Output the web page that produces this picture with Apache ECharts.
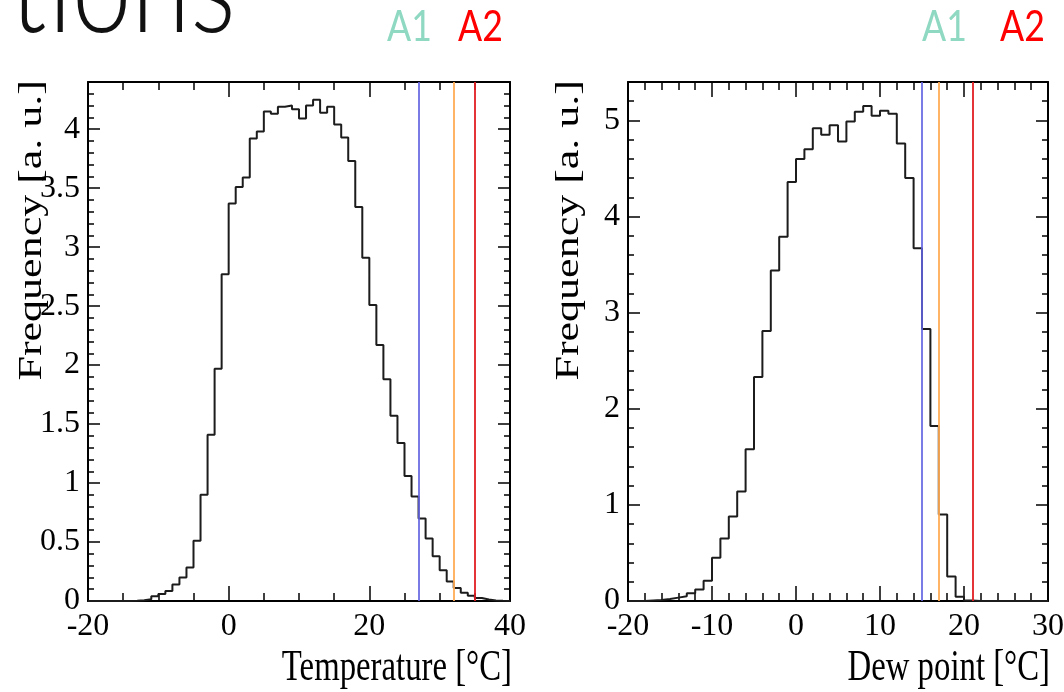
<!DOCTYPE html>
<html>
<head>
<meta charset="utf-8">
<script src="https://cdn.jsdelivr.net/npm/echarts@6/dist/echarts.min.js"></script>
<style>
html,body{margin:0;padding:0;background:#fff;}
#main{width:1064px;height:692px;}
</style>
</head>
<body>
<div id="main"></div>
<script>
// histogram bins: 1 degC wide, starting at the low edge
var tempLow = -20, dewLow = -20, binWidth = 1;
// temperature, bins -20 .. 39
var tempFreq = [0, 0, 0, 0, 0, 0, 0.002, 0.006, 0.015, 0.04,
	0.06, 0.085, 0.14, 0.2, 0.285, 0.51, 0.9, 1.41, 1.97, 2.77,
	3.37, 3.51, 3.59, 3.92, 3.98, 4.15, 4.13, 4.19, 4.2, 4.17,
	4.09, 4.2, 4.25, 4.14, 4.19, 4.04, 3.93, 3.73, 3.34, 2.91,
	2.51, 2.17, 1.88, 1.57, 1.34, 1.06, 0.885, 0.7, 0.53, 0.38,
	0.26, 0.165, 0.11, 0.07, 0.045, 0.025, 0.012, 0.005, 0.002, 0];
// dew point, bins -20 .. 29
var dewFreq = [0, 0, 0.005, 0.01, 0.02, 0.035, 0.05, 0.08, 0.12, 0.21,
	0.45, 0.65, 0.88, 1.14, 1.58, 2.33, 2.81, 3.44, 3.79, 4.36,
	4.6, 4.7, 4.92, 4.85, 4.95, 4.78, 4.99, 5.09, 5.15, 5.05,
	5.1, 5.07, 4.76, 4.4, 3.67, 2.83, 1.82, 0.9, 0.255, 0.045,
	0.005, 0, 0, 0, 0, 0, 0, 0, 0, 0];
// threshold lines
var tempCuts = [27, 32, 35];
var dewCuts = [15, 17, 21];
var cutColors = ['rgba(100,100,225,0.85)', 'rgba(255,172,85,0.9)', 'rgba(226,30,34,0.9)'];

var serif = '"Liberation Serif", "Times New Roman", serif';

//bin edges + values -> points for a step line
function histPoints(low, vals){
	var pts = [];
	for(var i=0;i<vals.length;i++){
		pts.push([low+i*binWidth, vals[i]]);
	}
	pts.push([low+vals.length*binWidth, vals[vals.length-1]]);
	return pts;
}

function isMajor(v, step){
	var r = v/step;
	return Math.abs(r-Math.round(r)) < 1e-6;
}

//frame axes: major + minor ticks on both sides
function frameAxes(dim, gi, min, max, major, minor){
	var pos = dim=='x' ? ['bottom','top'] : ['left','right'];
	var majLen = dim=='x' ? 15 : 12;
	var minLen = dim=='x' ? 8 : 6;
	var list = [];
	for(var s=0;s<2;s++){
		list.push({
			type:'value', gridIndex:gi, position:pos[s], min:min, max:max, interval:major,
			axisLine:{show:true, onZero:false, lineStyle:{color:'#000', width:2}},
			axisTick:{show:true, inside:true, length:majLen, lineStyle:{color:'#000', width:1.5}},
			axisLabel:{
				show:s==0, color:'#000', fontFamily:serif, fontSize:32,
				margin: dim=='x' ? 10 : 8,
				showMinLabel:true, showMaxLabel:true, hideOverlap:false,
				formatter:function(v){ return isMajor(v, major) ? String(v) : ''; }
			},
			splitLine:{show:false}
		});
		list.push({
			type:'value', gridIndex:gi, position:pos[s], min:min, max:max, interval:minor,
			axisLine:{show:false, onZero:false},
			axisTick:{show:true, inside:true, length:minLen, lineStyle:{color:'#000', width:1.5}},
			axisLabel:{show:false},
			splitLine:{show:false}
		});
	}
	return list;
}

function cutLines(cuts){
	var d = [];
	for(var i=0;i<cuts.length;i++){
		d.push({xAxis:cuts[i], lineStyle:{color:cutColors[i]}});
	}
	return {
		silent:true, symbol:'none', label:{show:false},
		lineStyle:{type:'solid', width:2},
		emphasis:{disabled:true},
		data:d
	};
}

var myChart = echarts.init(document.getElementById('main'));
var option = {
	backgroundColor:'#fff',
	animation:false,
	grid:[
		{left:88, top:82, width:422, height:519, containLabel:false, outerBoundsMode:'none'},
		{left:628, top:82, width:420, height:519, containLabel:false, outerBoundsMode:'none'}
	],
	xAxis: frameAxes('x', 0, -20, 40, 20, 5).concat(frameAxes('x', 1, -20, 30, 10, 2)),
	yAxis: frameAxes('y', 0, 0, 4.4, 0.5, 0.1).concat(frameAxes('y', 1, 0, 5.4, 1, 0.2)),
	series:[
		{
			type:'line', xAxisIndex:0, yAxisIndex:0, step:'end',
			data:histPoints(tempLow, tempFreq),
			symbol:'none', silent:true,
			lineStyle:{color:'#1c1c1c', width:2},
			markLine:cutLines(tempCuts)
		},
		{
			type:'line', xAxisIndex:4, yAxisIndex:4, step:'end',
			data:histPoints(dewLow, dewFreq),
			symbol:'none', silent:true,
			lineStyle:{color:'#1c1c1c', width:2},
			markLine:cutLines(dewCuts)
		}
	],
	graphic:[
		{type:'text', x:10, y:-10, scaleX:0.82, style:{text:'tions', font:'300 130px Lato', fill:'#111', align:'left', verticalAlign:'middle'}},
		{type:'text', x:387, y:27, scaleX:0.85, style:{text:'A1', font:'42px Lato', fill:'#8fd8c2', align:'left', verticalAlign:'middle'}},
		{type:'text', x:458, y:27, scaleX:0.85, style:{text:'A2', font:'42px Lato', fill:'#ff0000', align:'left', verticalAlign:'middle'}},
		{type:'text', x:922, y:27, scaleX:0.85, style:{text:'A1', font:'42px Lato', fill:'#8fd8c2', align:'left', verticalAlign:'middle'}},
		{type:'text', x:1000, y:27, scaleX:0.85, style:{text:'A2', font:'42px Lato', fill:'#ff0000', align:'left', verticalAlign:'middle'}},
		{type:'text', x:512, y:668, scaleX:0.745, style:{text:'Temperature [°C]', font:'44px '+serif, fill:'#000', align:'right', verticalAlign:'middle'}},
		{type:'text', x:1050, y:668, scaleX:0.745, style:{text:'Dew point [°C]', font:'44px '+serif, fill:'#000', align:'right', verticalAlign:'middle'}},
		{type:'text', x:32, y:80, rotation:Math.PI/2, scaleY:0.745, style:{text:'Frequency [a. u.]', font:'44px '+serif, fill:'#000', align:'right', verticalAlign:'middle'}},
		{type:'text', x:569, y:80, rotation:Math.PI/2, scaleY:0.745, style:{text:'Frequency [a. u.]', font:'44px '+serif, fill:'#000', align:'right', verticalAlign:'middle'}}
	]
};
myChart.setOption(option);
</script>
</body>
</html>
